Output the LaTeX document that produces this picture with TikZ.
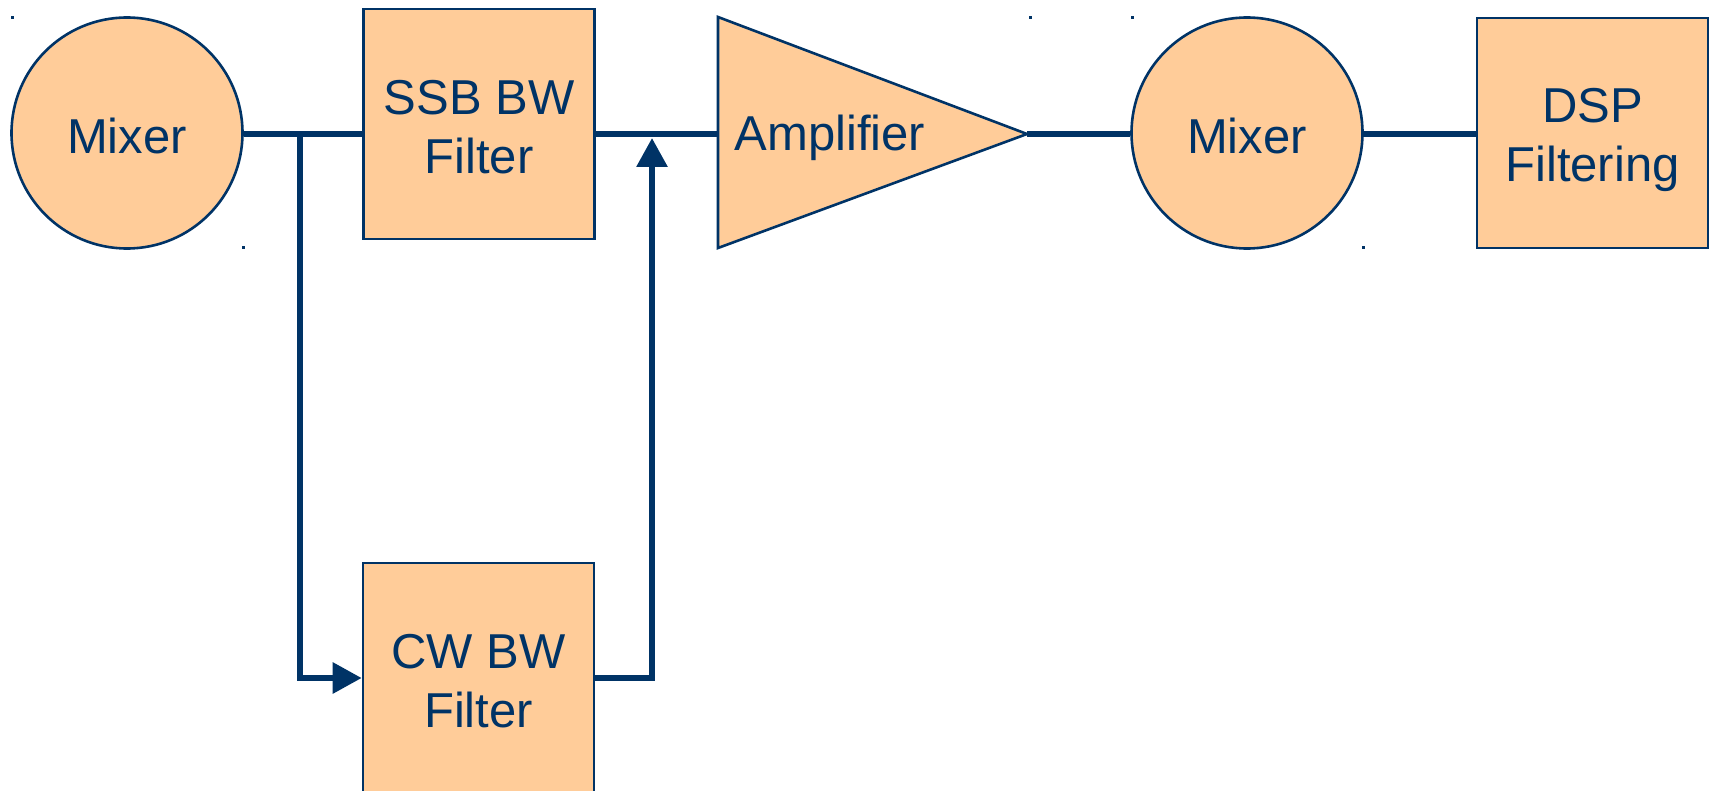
\documentclass[tikz,border=0pt]{standalone}
\usepackage{fontspec}
\setmainfont{Liberation Sans}
\usetikzlibrary{arrows.meta}
\definecolor{navy}{RGB}{0,51,102}
\definecolor{peach}{RGB}{255,204,153}

\begin{document}
\begin{tikzpicture}[x=0.5pt,y=-0.5pt]
    \useasboundingbox (0,0) rectangle (1712,791);
    \begin{scope}[font=\fontsize{24.5}{29.5}\selectfont,
        block/.style={draw=navy,line width=1.3pt,fill=peach,text=navy,align=center,inner sep=0pt,minimum width=115.5pt,minimum height=115pt},
        mixer/.style={block,circle,minimum size=115.5pt},
        wire/.style={draw=navy,line width=3pt},
        tip/.style={-{Triangle[length=14.5pt,width=15pt]}}]
    % Blocks:
    % (the struts only push the text a little down in its box)
    \node [mixer] (mixa) at (127,133) {\rule{0pt}{21pt}Mixer};
    \node [block] (ssb) at (479,124) {\rule{0pt}{20.5pt}SSB BW\\Filter};
    \node [block] (cw) at (478.5,678) {\rule{0pt}{20pt}CW BW\\Filter};
    \node [mixer] (mixb) at (1247,133) {\rule{0pt}{21pt}Mixer};
    \node [block] (dsp) at (1592.5,133) {\rule{0pt}{24pt}DSP\\Filtering};

    % Amplifier is a plain triangle with a text node on it
    \coordinate (ampin) at (718,134);
    \coordinate (ampout) at (1027,134);
    \draw [navy,line width=1.3pt,fill=peach] (718,17) -- (ampout) -- (718,248) -- cycle;
    \node [text=navy] (amp) at (830,133) {\rule{0pt}{23pt}Amplifier};

    % Wires
    \coordinate (split) at (300,134);
    \coordinate (merge) at (652,138);
    \draw [wire] ([yshift=-0.5pt]mixa.east) -- ([yshift=-0.5pt]mixa.east -| ssb.west);
    \draw [wire] (ssb.east |- ampin) -- (ampin);
    \draw [wire,tip] (split) |- (cw.west);
    \draw [wire,tip] (cw.east) -| (merge);
    \draw [wire] (ampout) -- (ampout -| mixb.west);
    \draw [wire] ([yshift=-0.5pt]mixb.east) -- ([yshift=-0.5pt]mixb.east -| dsp.west);

    % stray corner marks
    \foreach \p in {(12,18),(243,248),(1030,18),(1132,18),(1363,248)}
        \fill [navy] \p +(-1.5,-1.5) rectangle +(1.5,1.5);
    \end{scope}
\end{tikzpicture}
\end{document}
